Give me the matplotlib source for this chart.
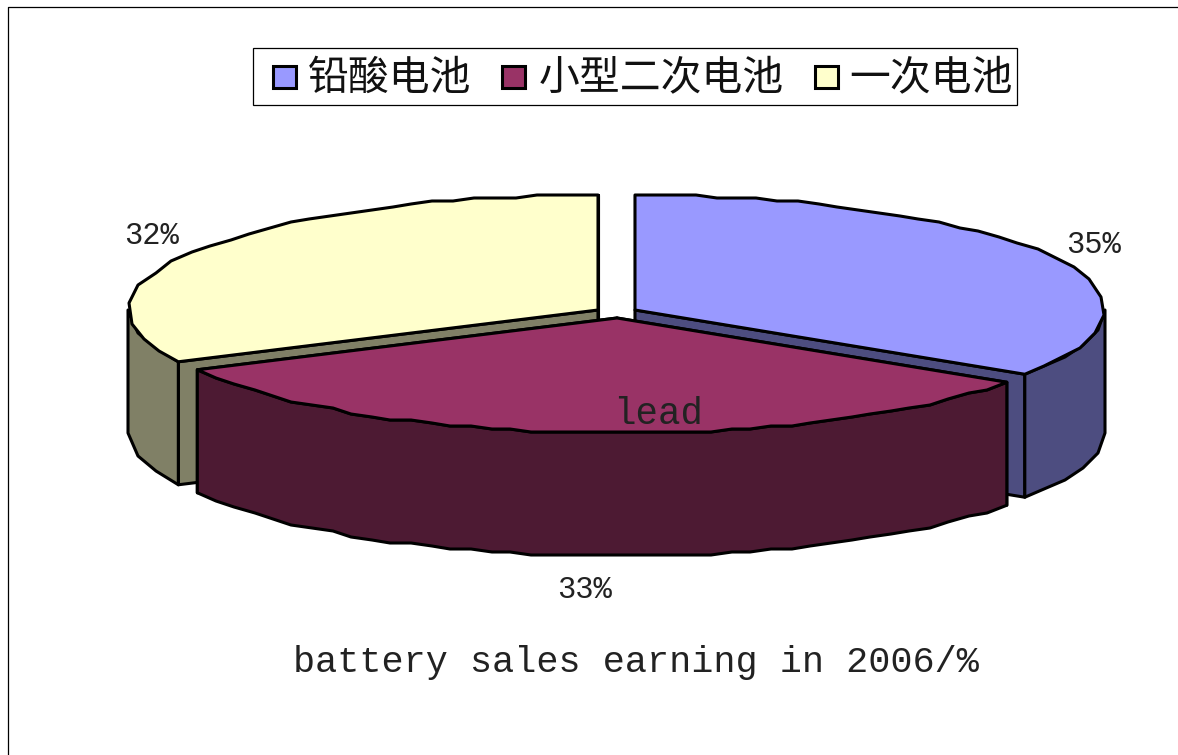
import numpy as np
import matplotlib
matplotlib.use("Agg")
import matplotlib.pyplot as plt
from matplotlib.patches import Polygon, Rectangle

# Data
categories = ['铅酸电池', '小型二次电池', '一次电池']
shares = [34.4, 33.1, 32.4]
pct_labels = ['35%', '33%', '32%']
top_colors = ['#9999FF', '#993366', '#FFFFCC']
side_colors = ['#4D4D80', '#4D1A33', '#808066']
annotation = 'lead'
caption = 'battery sales earning in 2006/%'

# Layout (pixels)
W, H = 1178, 755
centers = [(635, 310), (617, 318), (598, 310)]
RX, RY, DEPTH = 470, 115, 123
LW = 2.2
MONO = 'Liberation Mono'
CJK = 'Noto Sans CJK SC'

fig = plt.figure(figsize=(W / 100, H / 100), dpi=100)
ax = fig.add_axes([0, 0, 1, 1])
ax.set_xlim(0, W)
ax.set_ylim(H, 0)
ax.axis('off')

# outer frame
ax.plot([8, 8, W], [H, 7, 7], color='black', lw=0.9, zorder=1)


def rim(cx, cy, a0, a1, step=20):
    """Ellipse arc from a0 to a1 (deg clockwise from 12 o'clock), coarse and jagged like the source."""
    t = np.radians(np.linspace(a0, a1, 1500))
    x = cx + RX * np.sin(t)
    y = cy - RY * np.cos(t)
    s = np.r_[0, np.cumsum(np.hypot(np.diff(x), np.diff(y)))]
    n = max(2, int(s[-1] / step))
    si = np.linspace(0, s[-1], n + 1)
    xs = np.interp(si, s, x)
    ys = np.interp(si, s, y)
    xq = np.round(xs / 3) * 3
    yq = np.round(ys / 3) * 3
    xq[[0, -1]] = xs[[0, -1]]
    yq[[0, -1]] = ys[[0, -1]]
    return xq, yq


def poly(xs, ys, color, z):
    ax.add_patch(Polygon(np.column_stack([xs, ys]), closed=True, fc=color, ec='black',
                         lw=LW, joinstyle='round', zorder=z))


def wedge(i, a0, a1, z):
    cx, cy = centers[i]
    top, side = top_colors[i], side_colors[i]
    x, y = rim(cx, cy, a0, a1)
    # inner cut faces
    for k in (0, -1):
        poly([cx, x[k], x[k], cx], [cy, y[k], y[k] + DEPTH, cy + DEPTH], side, z)
    # outer wall: only the part facing the viewer
    lo, hi = max(a0, 90), min(a1, 270)
    if hi > lo:
        wx, wy = rim(cx, cy, lo, hi)
        poly(np.r_[wx, wx[::-1]], np.r_[wy, wy[::-1] + DEPTH], side, z + 0.1)
    poly(np.r_[cx, x], np.r_[cy, y], top, z + 0.2)


edges = np.r_[0, np.cumsum(shares)] / np.sum(shares) * 360
for i, z in ((0, 2), (2, 3), (1, 4)):
    wedge(i, edges[i], edges[i + 1], z)

# legend
ax.add_patch(Rectangle((253, 48), 764, 57, fc='white', ec='black', lw=0.9, zorder=5))
swatch_x = [272.5, 501.5, 814.5]
text_x = [308, 539, 849]
for sx, tx, name, color in zip(swatch_x, text_x, categories, top_colors):
    ax.add_patch(Rectangle((sx, 65.5), 23, 22, fc=color, ec='black', lw=LW, zorder=6))
    ax.text(tx, 78, name, fontsize=29.4, family=CJK, ha='left', va='center', color='#111111', zorder=6)

# percent labels
for (lx, ly), t in zip([(1093, 245), (584, 590), (151, 236)], pct_labels):
    ax.text(lx, ly, t, fontsize=22, family=MONO, ha='center', va='center', color='#222222', zorder=7)

ax.text(658, 414, annotation, fontsize=27, family=MONO, ha='center', va='center', color='#222222', zorder=7)
ax.text(636, 663, caption, fontsize=26.6, family=MONO, ha='center', va='center', color='#222222', zorder=7)

fig.savefig('out.png', dpi=100, facecolor='white')
